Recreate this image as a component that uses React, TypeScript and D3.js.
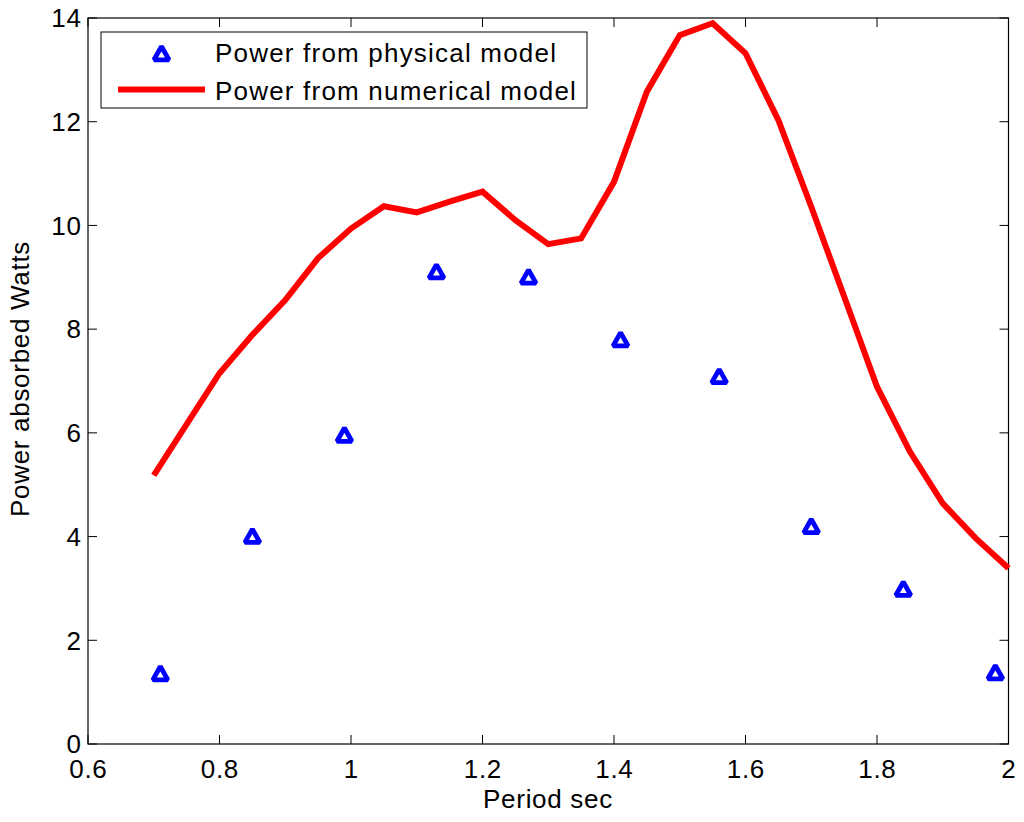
import React from "react";
import * as d3 from "d3";

const physX = [0.71, 0.85, 0.99, 1.13, 1.27, 1.41, 1.56, 1.7, 1.84, 1.98];
const physY = [1.33, 3.98, 5.93, 9.08, 8.98, 7.77, 7.06, 4.17, 2.96, 1.35];

const numX = [0.7, 0.8, 0.85, 0.9, 0.95, 1.0, 1.05, 1.1, 1.15, 1.2, 1.25, 1.3, 1.35, 1.4, 1.45, 1.5, 1.55, 1.6, 1.65, 1.7, 1.75, 1.8, 1.85, 1.9, 1.95, 2.0];
const numY = [5.18, 7.15, 7.89, 8.56, 9.37, 9.94, 10.37, 10.25, 10.46, 10.65, 10.1, 9.64, 9.75, 10.84, 12.58, 13.67, 13.9, 13.32, 12.03, 10.36, 8.63, 6.89, 5.64, 4.64, 3.97, 3.39];

const xTicks = [0.6, 0.8, 1.0, 1.2, 1.4, 1.6, 1.8, 2.0];
const yTicks = [0, 2, 4, 6, 8, 10, 12, 14];
const xTickLabels = ["0.6", "0.8", "1", "1.2", "1.4", "1.6", "1.8", "2"];

const legendLabels = ["Power from physical model", "Power from numerical model"];
const xLabel = "Period sec";
const yLabel = "Power absorbed Watts";

const W = 1024;
const H = 822;
const L = 88, R = 1008.5, T = 18, B = 744;
const FONT = "'Liberation Sans', Arial, Helvetica, sans-serif";
const TICK = 9;
const FS = 26;
const LS = 0.7;

const triPath = "M0,-8.5L7.5,4.8L-7.5,4.8Z";

export default function App() {
  const x = d3.scaleLinear().domain([0.6, 2]).range([L, R]);
  const y = d3.scaleLinear().domain([0, 14]).range([B, T]);
  const line = d3
    .line<number>()
    .x((_, i) => x(numX[i]))
    .y((d) => y(d));

  return (
    <svg
      width={W}
      height={H}
      style={{ position: "absolute", left: 0, top: 0, background: "#fff" }}
      fontFamily={FONT}
    >
      <rect x={0} y={0} width={W} height={H} fill="#fff" />
      {/* ticks */}
      {xTicks.map((t, i) => (
        <g key={"xt" + i}>
          <line x1={x(t)} x2={x(t)} y1={B} y2={B - TICK} stroke="#000" strokeWidth={1} />
          <line x1={x(t)} x2={x(t)} y1={T} y2={T + TICK} stroke="#000" strokeWidth={1} />
          <text x={x(t) + LS / 2} y={778} fontSize={FS} letterSpacing={LS} textAnchor="middle" fill="#000">
            {xTickLabels[i]}
          </text>
        </g>
      ))}
      {yTicks.map((t, i) => (
        <g key={"yt" + i}>
          <line x1={L} x2={L + TICK} y1={y(t)} y2={y(t)} stroke="#000" strokeWidth={1} />
          <line x1={R} x2={R - TICK} y1={y(t)} y2={y(t)} stroke="#000" strokeWidth={1} />
          <text x={81 + LS} y={y(t) + 9.3} fontSize={FS} letterSpacing={LS} textAnchor="end" fill="#000">
            {String(t)}
          </text>
        </g>
      ))}
      {/* frame */}
      <rect x={L} y={T} width={R - L} height={B - T} fill="none" stroke="#000" strokeWidth={1.2} />

      {/* numerical line */}
      <path d={line(numY) || ""} fill="none" stroke="#ff0000" strokeWidth={6} strokeLinejoin="miter" />

      {/* physical markers */}
      {physX.map((px, i) => (
        <path
          key={"p" + i}
          d={triPath}
          transform={`translate(${x(px)},${y(physY[i])})`}
          fill="#fff"
          stroke="#0000ff"
          strokeWidth={4.8}
          strokeLinejoin="bevel"
        />
      ))}

      {/* legend */}
      <rect x={101} y={32} width={486} height={76} fill="#fff" stroke="#000" strokeWidth={1} />
      <path d={triPath} transform="translate(161.5,55)" fill="#fff" stroke="#0000ff" strokeWidth={4.8} strokeLinejoin="bevel" />
      <line x1={118} x2={205} y1={89.5} y2={89.5} stroke="#ff0000" strokeWidth={6} />
      <text x={215} y={62} fontSize={FS} letterSpacing={1.2} fill="#000">
        {legendLabels[0]}
      </text>
      <text x={215} y={100} fontSize={FS} letterSpacing={1.2} fill="#000">
        {legendLabels[1]}
      </text>

      {/* axis labels */}
      <text x={548} y={808} fontSize={FS} letterSpacing={LS} textAnchor="middle" fill="#000">
        {xLabel}
      </text>
      <text
        transform="translate(29,379) rotate(-90)"
        fontSize={FS}
        letterSpacing={LS}
        textAnchor="middle"
        fill="#000"
      >
        {yLabel}
      </text>
    </svg>
  );
}
